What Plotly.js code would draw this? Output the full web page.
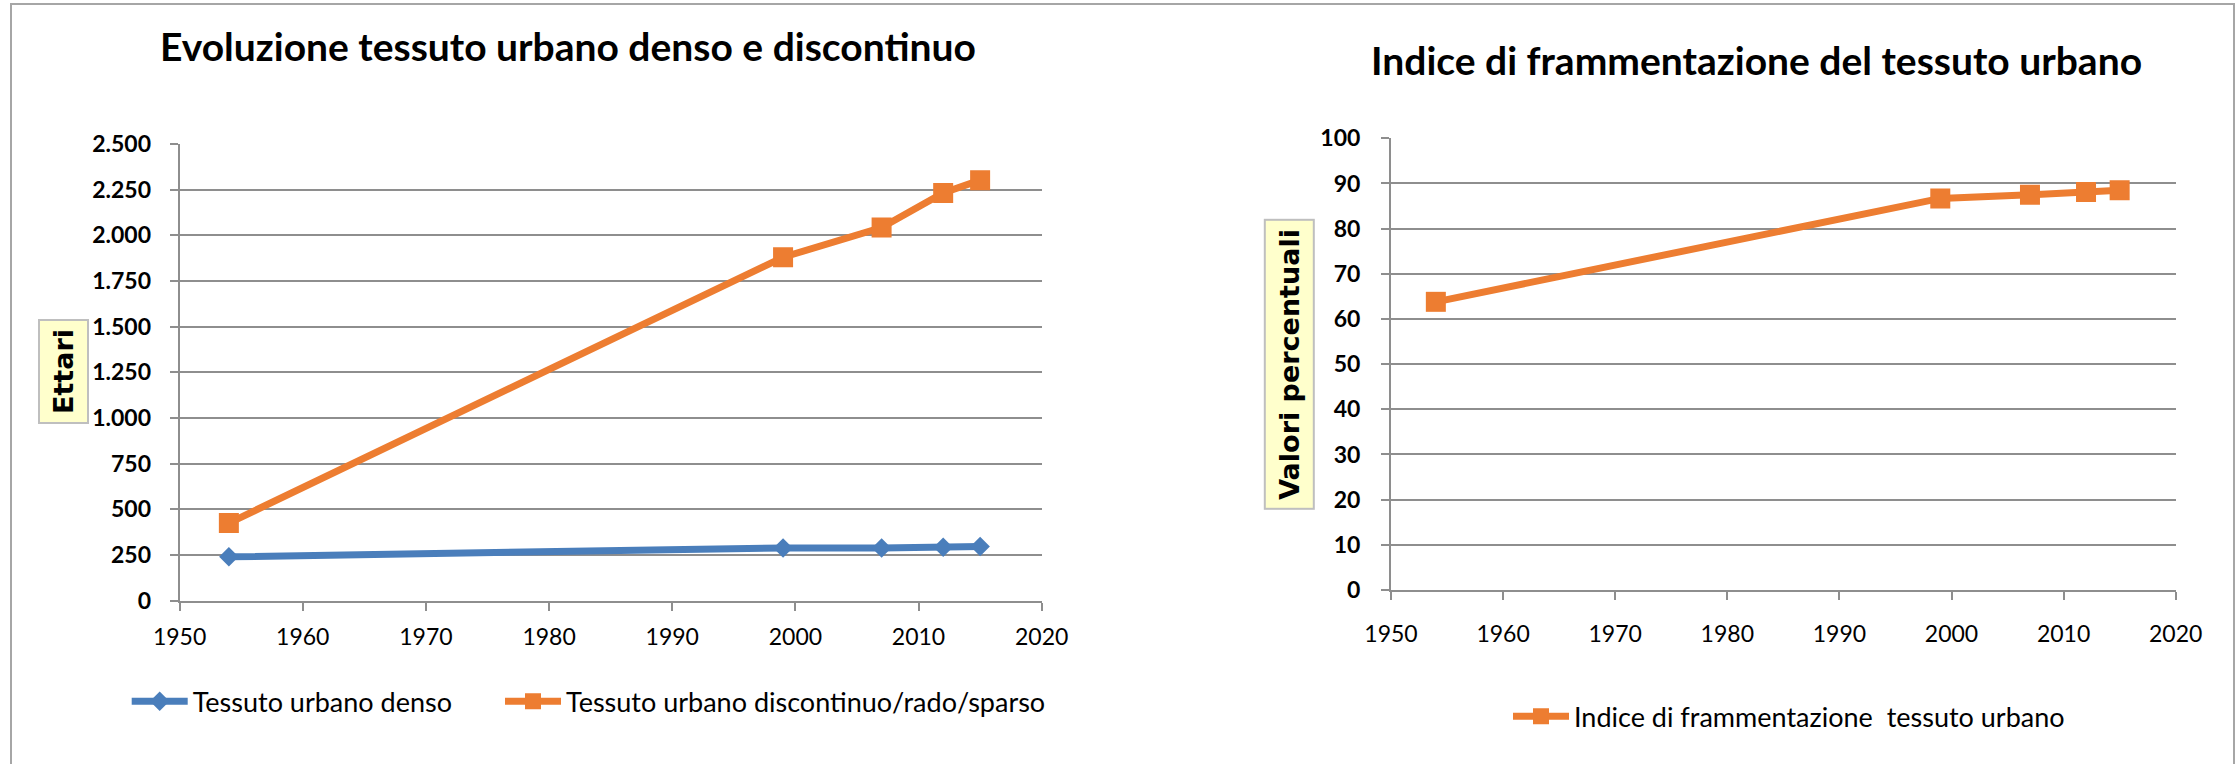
<!DOCTYPE html>
<html>
<head>
<meta charset="utf-8">
<script src="https://cdn.plot.ly/plotly-3.0.1.min.js"></script>
<style>
html,body{margin:0;padding:0;background:#fff;}
#chart{width:2239px;height:764px;}
</style>
</head>
<body>
<div id="chart"></div>
<script>
// ---- Data ----
const anni = [1954, 1999, 2007, 2012, 2015];
const tessutoDenso = [240, 289, 288, 293, 297];
const tessutoDiscontinuo = [425, 1880, 2043, 2232, 2302];
const indiceFrammentazione = [63.8, 86.7, 87.5, 88.1, 88.5];

const nomeDenso = 'Tessuto urbano denso';
const nomeDiscontinuo = 'Tessuto urbano discontinuo/rado/sparso';
const nomeIndice = 'Indice di frammentazione  tessuto urbano';

const titoloSinistra = 'Evoluzione tessuto urbano denso e discontinuo';
const titoloDestra = 'Indice di frammentazione del tessuto urbano';
const titoloYSinistra = 'Ettari';
const titoloYDestra = 'Valori percentuali';

// ---- Styling ----
const W = 2239, H = 764;
const BLUE = '#4A7EBB', ORANGE = '#ED7D31';
const GRID = '#8E8E8E';
const FONT = 'Lato, "Open Sans", sans-serif';
const px = v => v / W;
const py = v => 1 - v / H;

const traces = [
  {x: anni, y: tessutoDenso, name: nomeDenso, type: 'scatter', mode: 'lines+markers',
   xaxis: 'x', yaxis: 'y', legend: 'legend',
   line: {color: BLUE, width: 7}, marker: {symbol: 'diamond', size: 15, color: BLUE}},
  {x: anni, y: tessutoDiscontinuo, name: nomeDiscontinuo, type: 'scatter', mode: 'lines+markers',
   xaxis: 'x', yaxis: 'y', legend: 'legend3',
   line: {color: ORANGE, width: 7}, marker: {symbol: 'square', size: 20, color: ORANGE}},
  {x: anni, y: indiceFrammentazione, name: nomeIndice, type: 'scatter', mode: 'lines+markers',
   xaxis: 'x2', yaxis: 'y2', legend: 'legend2',
   line: {color: ORANGE, width: 7}, marker: {symbol: 'square', size: 20, color: ORANGE}}
];

const xCommon = {
  range: [1950, 2020], tick0: 1950, dtick: 10, tickformat: 'd',
  showgrid: false, zeroline: false, showline: true, linecolor: GRID, linewidth: 2,
  ticks: 'outside', ticklen: 8, tickwidth: 2, tickcolor: GRID,
  tickfont: {family: FONT, size: 23, color: '#000'}, fixedrange: true
};
const yCommon = {
  showgrid: true, gridcolor: GRID, gridwidth: 2, zeroline: false,
  showline: true, linecolor: GRID, linewidth: 2,
  ticks: 'outside', ticklen: 8, tickwidth: 2, tickcolor: GRID,
  tickfont: {family: FONT, size: 23, color: '#000', weight: 'bold'}, fixedrange: true
};
const legendCommon = {
  orientation: 'h', xanchor: 'left', yanchor: 'middle', itemwidth: 56,
  font: {family: FONT, size: 27, color: '#000'}, bgcolor: 'rgba(0,0,0,0)',
  itemclick: false, itemdoubleclick: false
};

const layout = {
  width: W, height: H,
  margin: {l: 0, r: 0, t: 0, b: 0},
  paper_bgcolor: '#fff', plot_bgcolor: '#fff',
  separators: ',.',
  font: {family: FONT, color: '#000'},
  xaxis: Object.assign({}, xCommon, {domain: [px(179.6), px(1041.7)], anchor: 'y', ticklabelstandoff: 7}),
  yaxis: Object.assign({}, yCommon, {domain: [py(600.7), py(144)], anchor: 'x',
    range: [0, 2500], tick0: 0, dtick: 250, tickformat: ',d', ticklabelstandoff: 14}),
  xaxis2: Object.assign({}, xCommon, {domain: [px(1391), px(2175.7)], anchor: 'y2', ticklabelstandoff: 14}),
  yaxis2: Object.assign({}, yCommon, {domain: [py(590), py(138.3)], anchor: 'x2',
    range: [0, 100], tick0: 0, dtick: 10, ticklabelstandoff: 16}),
  showlegend: true,
  legend: Object.assign({}, legendCommon, {x: px(126.7), y: py(701.7)}),
  legend3: Object.assign({}, legendCommon, {x: px(500), y: py(701.7)}),
  legend2: Object.assign({}, legendCommon, {x: px(1508), y: py(716.7)}),
  annotations: [
    {text: titoloSinistra, xref: 'paper', yref: 'paper', x: px(568), y: py(46), xanchor: 'center', yanchor: 'middle',
     showarrow: false, font: {family: FONT, size: 39, weight: 'bold', color: '#000'}},
    {text: titoloDestra, xref: 'paper', yref: 'paper', x: px(1756), y: py(60), xanchor: 'center', yanchor: 'middle',
     showarrow: false, font: {family: FONT, size: 39, weight: 'bold', color: '#000'}},
    {text: titoloYSinistra, xref: 'paper', yref: 'paper', x: px(63), y: py(372), xanchor: 'center', yanchor: 'middle',
     textangle: -90, showarrow: false, bgcolor: '#FFFFCC', bordercolor: '#BFBFBF', borderwidth: 2, borderpad: 8,
     font: {family: '"DejaVu Sans", Verdana, sans-serif', size: 27, weight: 'bold', color: '#000'}},
    {text: titoloYDestra, xref: 'paper', yref: 'paper', x: px(1288.8), y: py(364), xanchor: 'center', yanchor: 'middle',
     textangle: -90, showarrow: false, bgcolor: '#FFFFCC', bordercolor: '#BFBFBF', borderwidth: 2, borderpad: 8,
     font: {family: '"DejaVu Sans", Verdana, sans-serif', size: 27, weight: 'bold', color: '#000'}}
  ],
  shapes: [
    {type: 'rect', xref: 'paper', yref: 'paper', x0: px(11), x1: px(2234), y0: -0.05, y1: py(4),
     line: {color: '#A6A6A6', width: 2}, fillcolor: 'rgba(0,0,0,0)', layer: 'below'}
  ]
};

Plotly.newPlot('chart', traces, layout, {staticPlot: true, displayModeBar: false});
</script>
</body>
</html>
